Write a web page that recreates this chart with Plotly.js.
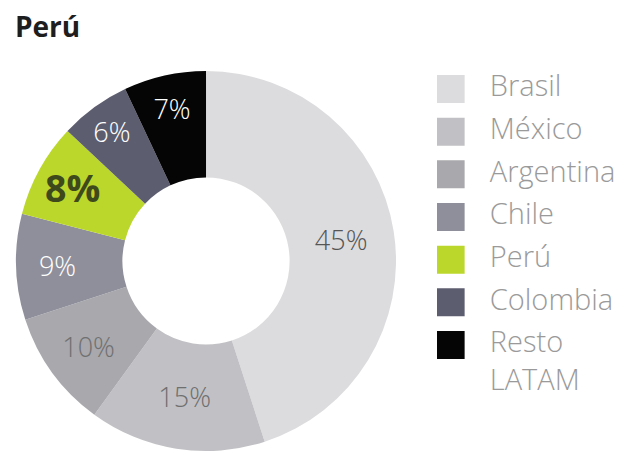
<!DOCTYPE html>
<html>
<head>
<meta charset="utf-8">
<script src="https://cdn.plot.ly/plotly-3.0.1.min.js"></script>
<style>html,body{margin:0;padding:0;background:#fff;}#chart{width:621px;height:456px;}</style>
</head>
<body>
<div id="chart"></div>
<script>
// Data
const countries = ["Brasil", "México", "Argentina", "Chile", "Perú", "Colombia", "Resto LATAM"];
const shares = [45, 15, 10, 9, 8, 6, 7];
const sliceColors = ["#dcdcde", "#c1c1c5", "#a8a8ad", "#8f8f9b", "#bcd72b", "#5d5d70", "#050505"];
const labelColors = ["#555555", "#6f6f6f", "#707070", "#ffffff", "#3f4a1c", "#ffffff", "#ffffff"];
const highlight = "Perú";

const templates = countries.map(c => c === highlight ? "<b>%{value}%</b>" : "%{value}%");
const sizes = countries.map(c => c === highlight ? 40 : 27);
const legendText = countries.map(c => c.indexOf(" ") >= 0 ? "\u00a0<br>" + c.split(" ").join("<br>") : c);

const pie = {
  type: "pie",
  labels: countries,
  values: shares,
  sort: false,
  direction: "clockwise",
  rotation: 0,
  hole: 0.44,
  marker: {colors: sliceColors, line: {width: 0}},
  texttemplate: templates,
  textposition: "inside",
  insidetextorientation: "horizontal",
  textfont: {family: "Open Sans", size: sizes, color: labelColors, weight: 300},
  domain: {x: [0.0258, 0.6377], y: [0.011, 0.8443]},
  showlegend: false,
  hoverinfo: "label+percent"
};

const legendMarks = {
  type: "scatter",
  mode: "markers",
  x: countries.map(() => 0),
  y: countries,
  xaxis: "x", yaxis: "y",
  marker: {symbol: "square", size: 28, color: sliceColors, line: {width: 0}},
  showlegend: false,
  hoverinfo: "skip"
};

const legendLabels = {
  type: "scatter",
  mode: "text",
  x: countries.map(() => 0.23),
  y: countries,
  xaxis: "x", yaxis: "y",
  text: legendText,
  textposition: "middle right",
  textfont: {family: "Open Sans", size: 29, color: "#9a9a9a", weight: 300},
  showlegend: false,
  hoverinfo: "skip",
  cliponaxis: false
};

const layout = {
  width: 621, height: 456,
  margin: {l: 0, r: 0, t: 0, b: 0},
  paper_bgcolor: "#ffffff",
  plot_bgcolor: "rgba(0,0,0,0)",
  title: {
    text: "<b>Perú</b>",
    x: 0.024, xanchor: "left", xref: "paper",
    y: 0.94, yanchor: "middle", yref: "paper",
    font: {family: "Open Sans", size: 28, color: "#1e1e1e"}
  },
  xaxis: {domain: [0.7037, 1], range: [-0.08, 1], visible: false, fixedrange: true},
  yaxis: {domain: [0.1968, 0.8514], type: "category", categoryarray: countries, range: [6.5, -0.5], visible: false, fixedrange: true},
  showlegend: false
};

Plotly.newPlot("chart", [pie, legendMarks, legendLabels], layout, {displayModeBar: false, staticPlot: true});
</script>
</body>
</html>
